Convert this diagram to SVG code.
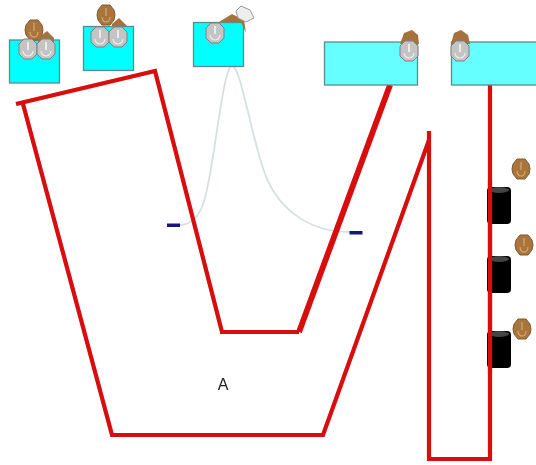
<svg xmlns="http://www.w3.org/2000/svg" width="536" height="465" viewBox="0 0 536 465">
<style>
.box{fill:#00ffff;stroke:#5f8a8a;stroke-width:1.3}
.pale{fill:#66ffff;stroke:#5f8a8a;stroke-width:1.3}
.red{fill:none;stroke:#d80808;stroke-width:4.200;stroke-linejoin:miter}
.thick{fill:none;stroke:#d80808;stroke-width:5.800}
.curve{fill:none;stroke:#d5e0e0;stroke-width:1.800}
.dash{fill:#14147a}
.cyl{fill:#000}
.brown{fill:#a5723c}
.lbl{font-family:"Liberation Sans",Arial,sans-serif;font-size:16px;fill:#222}
</style>
<defs>
<filter id="soft" x="-5%" y="-5%" width="110%" height="110%"><feGaussianBlur stdDeviation="0.7"/></filter>
<g id="valve">
<polygon points="-4,-10 4,-10 9,-5 9,5 4,10 -4,10 -9,5 -9,-5" fill="#c4c4c4" stroke="#808080"/>
<path d="M-5,2 A5,5 0 0 0 5,2" fill="none" stroke="#eee" stroke-width="1.200"/>
<rect x="-0.800" y="-7" width="1.600" height="8" fill="#f4f4f4"/>
</g>
<g id="nut">
<polygon points="-4,-10 4,-10 8,-5 9,0 8,5 4,10 -4,10 -8,5 -9,0 -8,-5" fill="#a9743c" stroke="#7d5a30"/>
<path d="M-4,2 A4,5 0 0 0 4,2 M0,-7 V1" fill="none" stroke="#d9ae78" stroke-width="1.100"/>
</g>
<g id="cylinder">
<rect x="-12" y="0" width="24" height="37" rx="4" class="cyl"/>
<ellipse cx="0" cy="3" rx="10" ry="3" fill="#444"/>
</g>
</defs>
<rect width="536" height="465" fill="#fff"/>
<g filter="url(#soft)">
<g id="connectors">
<path class="curve" d="M180,225 C205,224 207,190 214,150 C220,110 226,66 232,66 C240,66 248,120 262,165 C275,210 310,232 350,232"/>
<polyline class="red" points="16,104 155,71 222,332"/>
<polyline class="red" points="220,332 299,332"/>
<line class="thick" x1="299" y1="332" x2="390" y2="85"/>
<polyline class="red" points="23,104 112,435 323,435 429,140"/>
<polyline class="red" points="429,131 429,459 490,459 490,85"/>
</g>
<g id="box1"><rect class="box" x="9.500" y="40" width="50" height="43"/>
<use href="#nut" transform="translate(34,30)"/><path class="brown" d="M38,38 L47,31 L54,38 V44 H38Z"/>
<use href="#valve" transform="translate(28,49)"/><use href="#valve" transform="translate(46,49)"/></g>
<g id="box2"><rect class="box" x="83.500" y="26.500" width="50" height="44"/>
<use href="#nut" transform="translate(106,15)"/><path class="brown" d="M112,24 L119,18 L127,26 H112Z"/>
<use href="#valve" transform="translate(100,37)"/><use href="#valve" transform="translate(118,37)"/></g>
<g id="box3"><rect class="box" x="193.500" y="22.500" width="50" height="44"/>
<path class="brown" d="M219,22 L232,14 L244,20 L246,33 L241,22Z"/>
<path d="M236,11 L241,6 L250,10 L254,18 L246,22 L238,18Z" fill="#eee" stroke="#999"/>
<use href="#valve" transform="translate(215,33)"/></g>
<g id="box4"><rect class="pale" x="324.500" y="42" width="93" height="43"/>
<path class="brown" d="M400,44 L404,33 L412,30 L418,35 L419,44Z"/>
<use href="#valve" transform="translate(409,51)"/></g>
<g id="box5"><rect class="pale" x="451.500" y="42" width="90" height="43"/>
<path class="brown" d="M451,44 L454,33 L461,30 L468,35 L470,44Z"/>
<use href="#valve" transform="translate(460,51)"/></g>
<g id="sensor-left"><rect class="dash" x="167" y="223.500" width="13" height="3.500"/></g>
<g id="sensor-right"><rect class="dash" x="349.500" y="231" width="13" height="3.500"/></g>
<g id="cyl1"><use href="#cylinder" transform="translate(499,187)"/></g>
<g id="cyl2"><use href="#cylinder" transform="translate(499,256)"/></g>
<g id="cyl3"><use href="#cylinder" transform="translate(499,331)"/></g>
<line class="red" x1="490" y1="180" x2="490" y2="375"/>
<g id="nut1"><use href="#nut" transform="translate(521,169)"/></g>
<g id="nut2"><use href="#nut" transform="translate(524,245)"/></g>
<g id="nut3"><use href="#nut" transform="translate(522,329)"/></g>
<g id="label-a"><text class="lbl" x="223" y="390" text-anchor="middle">A</text></g>
</g>
</svg>
